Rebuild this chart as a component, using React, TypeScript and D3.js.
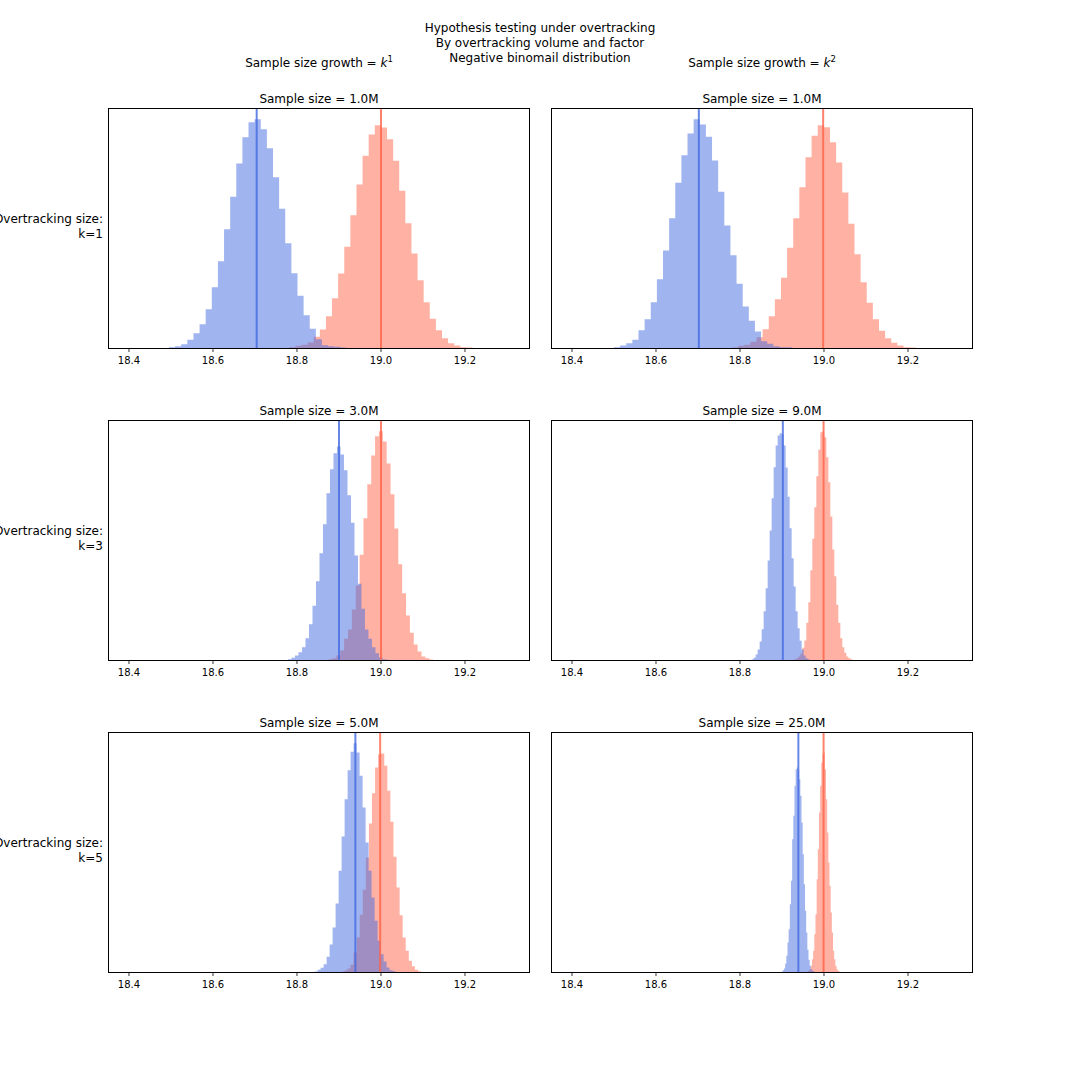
import React from "react";
import * as d3 from "d3";

// ---------- data (counts in arbitrary histogram units) ----------
const superTitle = [
  "Hypothesis testing under overtracking",
  "By overtracking volume and factor",
  "Negative binomail distribution",
];
const colGrowth = ["1", "2"];
const rowLabels = ["k=1", "k=3", "k=5"];
const panelTitles = [
  "Sample size = 1.0M", "Sample size = 1.0M",
  "Sample size = 3.0M", "Sample size = 9.0M",
  "Sample size = 5.0M", "Sample size = 25.0M",
];
const xTicks = [18.4, 18.6, 18.8, 19.0, 19.2];

const blueCounts1 = [4, 7, 13, 26, 46, 73, 118, 184, 262, 358, 455, 555, 634, 679, 688, 658, 601, 514, 419, 316, 226, 158, 100, 59, 28, 10, 7, 5, 3];
const redCounts1 = [4, 8, 11, 18, 35, 57, 97, 151, 225, 305, 400, 492, 578, 642, 670, 663, 628, 563, 473, 376, 285, 205, 139, 89, 55, 31, 16, 9, 4, 3];
const blueCounts2 = [4, 9, 16, 26, 55, 88, 139, 208, 294, 391, 497, 580, 645, 688, 672, 635, 564, 470, 369, 280, 194, 126, 83, 51, 22, 14, 7, 4, 4];
const redCounts2 = [3, 8, 11, 20, 34, 58, 97, 148, 212, 302, 391, 484, 574, 638, 670, 664, 619, 558, 468, 374, 283, 199, 137, 88, 53, 31, 17, 9, 4, 3];
const blueCounts3 = [4, 8, 15, 25, 40, 67, 109, 164, 238, 322, 409, 502, 574, 622, 642, 618, 571, 496, 413, 315, 230, 155, 93, 65, 40, 22, 9, 4, 2];
const redCounts3 = [4, 7, 15, 30, 65, 93, 153, 225, 317, 427, 529, 615, 673, 688, 657, 591, 499, 396, 289, 202, 135, 83, 48, 27, 12, 7, 3];
const blueCounts4 = [4, 8, 18, 33, 57, 94, 148, 217, 300, 390, 487, 580, 645, 675, 682, 679, 645, 579, 491, 397, 307, 222, 148, 97, 59, 33, 15, 7, 4];
const redCounts4 = [4, 7, 12, 20, 38, 60, 113, 175, 271, 365, 460, 553, 632, 685, 688, 670, 610, 535, 432, 333, 253, 167, 113, 67, 40, 23, 12, 7, 4];
const blueCounts5 = [3, 8, 14, 25, 47, 84, 135, 207, 305, 408, 520, 607, 662, 688, 660, 590, 495, 390, 305, 225, 155, 95, 55, 33, 15, 7, 4];
const redCounts5 = [3, 6, 12, 23, 60, 105, 173, 248, 345, 447, 538, 615, 655, 657, 620, 545, 452, 347, 255, 172, 105, 65, 35, 19, 8, 4];
const blueCounts6 = [3, 7, 12, 27, 50, 90, 130, 205, 275, 400, 470, 560, 610, 615, 610, 580, 530, 450, 355, 265, 185, 120, 68, 38, 20, 10, 6, 4];
const redCounts6 = [3, 5, 10, 20, 40, 65, 115, 175, 280, 370, 480, 560, 630, 655, 660, 610, 520, 420, 330, 260, 180, 120, 65, 40, 20, 10, 5, 3];

const blueCounts = [blueCounts1, blueCounts2, blueCounts3, blueCounts4, blueCounts5, blueCounts6];
const redCounts = [redCounts1, redCounts2, redCounts3, redCounts4, redCounts5, redCounts6];
const blueBinStart = [18.4952, 18.5, 18.7786, 18.8278, 18.842, 18.8992];
const blueBinWidth = [0.01457, 0.01459, 0.00833, 0.00476, 0.00714, 0.00278];
const redBinStart = [18.7817, 18.781, 18.8754, 18.9294, 18.9056, 18.9603];
const redBinWidth = [0.01454, 0.01458, 0.00921, 0.00476, 0.0073, 0.00278];
const blueMeans = [18.704, 18.702, 18.9, 18.902, 18.939, 18.939];
const redMeans = [19.0, 18.998, 19.0, 18.999, 18.998, 18.999];
const yMax = 720;
const xDomain = [18.3512, 19.3536];

// ---------- layout ----------
const colLeft = [108.5, 551.5];
const rowTop = [108.5, 420.5, 732.5];
const axW = 421;
const axH = 240;
const FONT = "DejaVu Sans, Verdana, sans-serif";

function stepPoints(start: number, width: number, counts: number[]): [number, number][] {
  const pts: [number, number][] = counts.map((c, i) => [start + i * width, c]);
  pts.push([start + counts.length * width, counts[counts.length - 1]]);
  return pts;
}

function Panel({ idx }: { idx: number }) {
  const r = Math.floor(idx / 2);
  const c = idx % 2;
  const left = colLeft[c];
  const top = rowTop[r];
  const x = d3.scaleLinear().domain(xDomain).range([left, left + axW]);
  const y = d3.scaleLinear().domain([0, yMax]).range([top + axH, top]);
  const area = d3
    .area<[number, number]>()
    .x((d) => x(d[0]))
    .y0(y(0))
    .y1((d) => y(d[1]))
    .curve(d3.curveStepAfter);
  const redPath = area(stepPoints(redBinStart[idx], redBinWidth[idx], redCounts[idx])) || "";
  const bluePath = area(stepPoints(blueBinStart[idx], blueBinWidth[idx], blueCounts[idx])) || "";
  return (
    <g>
      <path d={redPath} fill="tomato" fillOpacity={0.5} />
      <path d={bluePath} fill="royalblue" fillOpacity={0.5} />
      <line x1={x(blueMeans[idx])} x2={x(blueMeans[idx])} y1={top} y2={top + axH} stroke="royalblue" strokeOpacity={0.8} strokeWidth={2} />
      <line x1={x(redMeans[idx])} x2={x(redMeans[idx])} y1={top} y2={top + axH} stroke="tomato" strokeOpacity={0.8} strokeWidth={2} />
      <rect x={left} y={top} width={axW} height={axH} fill="none" stroke="#000" strokeWidth={1} />
      {xTicks.map((t) => (
        <g key={t}>
          <line x1={x(t)} x2={x(t)} y1={top + axH} y2={top + axH + 3.5} stroke="#000" strokeWidth={0.8} />
          <text x={x(t)} y={top + axH + 15} fontSize={10} textAnchor="middle" fontFamily={FONT}>
            {t.toFixed(1)}
          </text>
        </g>
      ))}
      <text x={left + axW / 2} y={top - 6} fontSize={12} textAnchor="middle" fontFamily={FONT}>
        {panelTitles[idx]}
      </text>
    </g>
  );
}

export default function App() {
  return (
    <svg
      width={1080}
      height={1080}
      style={{ position: "absolute", left: 0, top: 0, background: "#fff" }}
      fontFamily={FONT}
    >
      <rect x={0} y={0} width={1080} height={1080} fill="#fff" />
      {superTitle.map((s, i) => (
        <text key={i} x={540} y={32 + i * 15} fontSize={12} textAnchor="middle">
          {s}
        </text>
      ))}
      {colGrowth.map((g, c) => (
        <text key={g} x={colLeft[c] + axW / 2} y={67} fontSize={12} textAnchor="middle">
          Sample size growth = <tspan fontStyle="italic">k</tspan>
          <tspan fontSize={8.5} dy={-5}>{g}</tspan>
        </text>
      ))}
      {rowLabels.map((l, r) => (
        <g key={l}>
          <text x={103} y={rowTop[r] + axH / 2 - 5.5} fontSize={12} textAnchor="end">
            Overtracking size:
          </text>
          <text x={103} y={rowTop[r] + axH / 2 + 9.5} fontSize={12} textAnchor="end">
            {l}
          </text>
        </g>
      ))}
      {panelTitles.map((_, i) => (
        <Panel key={i} idx={i} />
      ))}
    </svg>
  );
}
